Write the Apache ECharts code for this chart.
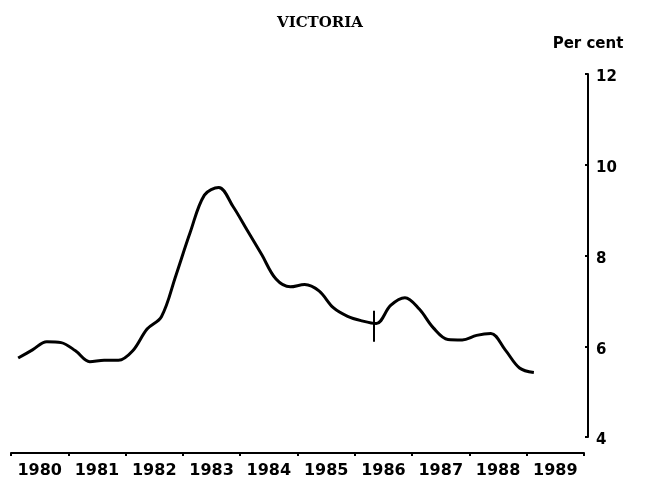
<!DOCTYPE html>
<html>
<head>
<meta charset="utf-8">
<script src="https://cdn.jsdelivr.net/npm/echarts@6/dist/echarts.min.js"></script>
<style>
  html, body { margin: 0; padding: 0; background: #fff; }
  #main { width: 647px; height: 485px; }
</style>
</head>
<body>
<div id="main"></div>
<script>
// year labels on the bottom axis
var years = ['1980', '1981', '1982', '1983', '1984', '1985', '1986', '1987', '1988', '1989'];
// unemployment rate, per cent, quarterly from 1980 Q1 to 1989 Q1
var rate = [5.74, 5.92, 6.10, 6.08, 5.90, 5.66, 5.69, 5.69, 5.90, 6.38,
            6.65, 7.55, 8.50, 9.33, 9.50, 9.08, 8.55, 8.02, 7.48, 7.31,
            7.36, 7.22, 6.85, 6.66, 6.56, 6.50, 6.90, 7.07, 6.82, 6.40,
            6.15, 6.14, 6.24, 6.28, 5.92, 5.52, 5.42];
var firstQuarter = 1980.125;
// tick labels on the right axis
var yTicks = [4, 6, 8, 10, 12];
// series break marker
var breakTime = 1986.33;
var breakRange = [6.1, 6.78];

var dom = document.getElementById('main');
var myChart = echarts.init(dom, null, { renderer: 'canvas' });

var points = rate.map(function (v, i) { return [firstQuarter + i * 0.25, v]; });

var option = {
  animation: false,
  title: {
    text: 'VICTORIA',
    left: 315, top: 11,
    textAlign: 'center',
    textStyle: { fontFamily: 'DejaVu Serif', fontWeight: 'bold', fontSize: 15, color: '#000' }
  },
  grid: { left: 11, right: 63, top: 74, bottom: 48 },
  xAxis: [
    { type: 'value', min: 1980, max: 1990, show: false },
    {
      type: 'category', data: years, position: 'bottom', offset: 16,
      boundaryGap: true,
      axisLine: { lineStyle: { color: '#000', width: 2 } },
      axisTick: { show: true, interval: 0, length: 3, lineStyle: { color: '#000', width: 2 } },
      axisLabel: { interval: 0, color: '#000', fontFamily: 'DejaVu Sans', fontWeight: 'bold', fontSize: 16, margin: 10 },
      splitLine: { show: false }
    }
  ],
  yAxis: {
    type: 'value', position: 'right', offset: 4,
    min: yTicks[0], max: yTicks[yTicks.length - 1], interval: 2,
    name: 'Per cent', nameLocation: 'end', nameGap: 22,
    nameTextStyle: { color: '#000', fontFamily: 'DejaVu Sans', fontWeight: 'bold', fontSize: 15, align: 'center' },
    axisLine: { show: true, lineStyle: { color: '#000', width: 2 } },
    axisTick: { show: true, inside: true, length: 3, lineStyle: { color: '#000', width: 2 } },
    axisLabel: { color: '#000', fontFamily: 'DejaVu Sans', fontWeight: 'bold', fontSize: 15, margin: 8,
                 verticalAlign: 'top', padding: [-4, 0, 0, 0] },
    splitLine: { show: false }
  },
  series: [
    {
      type: 'line', xAxisIndex: 0, data: points,
      smooth: 0.35, showSymbol: false,
      lineStyle: { color: '#000', width: 3 },
      markLine: {
        silent: true, symbol: 'none', label: { show: false },
        lineStyle: { color: '#000', width: 2, type: 'solid' },
        data: [[{ coord: [breakTime, breakRange[0]] }, { coord: [breakTime, breakRange[1]] }]]
      }
    }
  ]
};

myChart.setOption(option);
window.addEventListener('resize', myChart.resize);
</script>
</body>
</html>
